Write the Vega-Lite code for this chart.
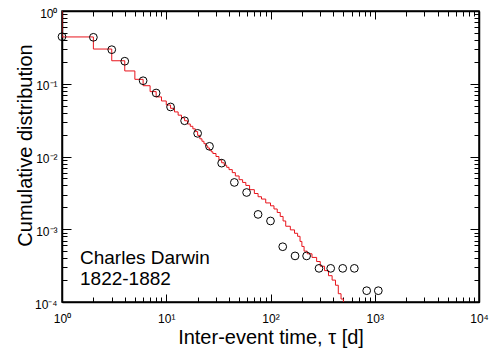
{
  "$schema": "https://vega.github.io/schema/vega-lite/v6.json",
  "width": 417,
  "height": 291,
  "autosize": "none",
  "padding": {"left": 62, "top": 11, "right": 12, "bottom": 55},
  "background": "white",
  "config": {
    "view": {"stroke": "black", "strokeWidth": 1.5},
    "axis": {
      "grid": false,
      "labelFlush": false,
      "labelOverlap": false,
      "labelFont": "Liberation Sans",
      "labelFontSize": 12,
      "labelColor": "black",
      "titleFont": "Liberation Sans",
      "titleFontWeight": "normal",
      "titleColor": "black",
      "tickColor": "black",
      "tickWidth": 1,
      "domainColor": "black",
      "domainWidth": 1.5
    },
    "text": {"font": "Liberation Sans"}
  },
  "datasets": {
    "ccdf": [
      {"t": 1, "p": 1.0},
      {"t": 1, "p": 0.44},
      {"t": 2, "p": 0.30},
      {"t": 3, "p": 0.207},
      {"t": 4, "p": 0.150},
      {"t": 5, "p": 0.115},
      {"t": 6, "p": 0.094},
      {"t": 7, "p": 0.078},
      {"t": 8, "p": 0.066},
      {"t": 9, "p": 0.058},
      {"t": 10, "p": 0.051},
      {"t": 11, "p": 0.046},
      {"t": 12, "p": 0.041},
      {"t": 13, "p": 0.037},
      {"t": 14, "p": 0.034},
      {"t": 15, "p": 0.031},
      {"t": 16, "p": 0.028},
      {"t": 17, "p": 0.026},
      {"t": 18, "p": 0.024},
      {"t": 19, "p": 0.022},
      {"t": 20, "p": 0.0195},
      {"t": 21, "p": 0.0175},
      {"t": 22, "p": 0.0162},
      {"t": 23, "p": 0.0150},
      {"t": 24, "p": 0.0140},
      {"t": 25, "p": 0.0131},
      {"t": 26, "p": 0.0123},
      {"t": 27, "p": 0.0116},
      {"t": 28, "p": 0.0110},
      {"t": 30, "p": 0.0100},
      {"t": 32, "p": 0.0090},
      {"t": 34, "p": 0.0082},
      {"t": 36, "p": 0.0076},
      {"t": 38, "p": 0.0071},
      {"t": 40, "p": 0.0066},
      {"t": 43, "p": 0.0060},
      {"t": 46, "p": 0.0054},
      {"t": 50, "p": 0.0048},
      {"t": 54, "p": 0.0044},
      {"t": 58, "p": 0.0040},
      {"t": 63, "p": 0.0035},
      {"t": 70, "p": 0.0031},
      {"t": 76, "p": 0.0028},
      {"t": 82, "p": 0.0026},
      {"t": 90, "p": 0.0023},
      {"t": 100, "p": 0.0021},
      {"t": 108, "p": 0.0019},
      {"t": 116, "p": 0.0017},
      {"t": 124, "p": 0.0015},
      {"t": 132, "p": 0.0013},
      {"t": 140, "p": 0.0011},
      {"t": 155, "p": 0.00098},
      {"t": 170, "p": 0.00088},
      {"t": 182, "p": 0.00080},
      {"t": 192, "p": 0.00068},
      {"t": 200, "p": 0.00058},
      {"t": 210, "p": 0.00050},
      {"t": 225, "p": 0.00046},
      {"t": 250, "p": 0.00041},
      {"t": 277, "p": 0.00036},
      {"t": 300, "p": 0.00031},
      {"t": 330, "p": 0.00027},
      {"t": 360, "p": 0.00023},
      {"t": 390, "p": 0.00020},
      {"t": 420, "p": 0.00017},
      {"t": 447, "p": 0.00013},
      {"t": 475, "p": 0.00011},
      {"t": 500, "p": 0.0001}
    ],
    "binned": [
      {"t": 1, "p": 0.443},
      {"t": 2, "p": 0.435},
      {"t": 3, "p": 0.294},
      {"t": 4, "p": 0.204},
      {"t": 6, "p": 0.110},
      {"t": 8, "p": 0.0746},
      {"t": 11, "p": 0.048},
      {"t": 15, "p": 0.031},
      {"t": 20, "p": 0.0208},
      {"t": 26, "p": 0.0138},
      {"t": 34, "p": 0.0081},
      {"t": 45, "p": 0.0044},
      {"t": 59, "p": 0.0032},
      {"t": 76, "p": 0.0016},
      {"t": 100, "p": 0.0013},
      {"t": 131, "p": 0.000575},
      {"t": 172, "p": 0.00043},
      {"t": 222, "p": 0.00043},
      {"t": 292, "p": 0.00029},
      {"t": 378, "p": 0.00029},
      {"t": 493, "p": 0.00029},
      {"t": 637, "p": 0.00029},
      {"t": 837, "p": 0.000143},
      {"t": 1082, "p": 0.000143}
    ]
  },
  "resolve": {"scale": {"x": "shared", "y": "shared"}, "axis": {"x": "independent", "y": "independent"}},
  "layer": [
    {
      "data": {"name": "ccdf"},
      "mark": {"type": "line", "interpolate": "step-after", "color": "#e8141c", "strokeWidth": 1, "clip": true},
      "encoding": {
        "x": {
          "field": "t", "type": "quantitative",
          "scale": {"type": "log", "domain": [1, 10000], "nice": false},
          "axis": {
            "orient": "bottom",
            "values": [1, 10, 100, 1000, 10000],
            "tickSize": -8,
            "labelPadding": 28,
            "labelBaseline": "alphabetic",
            "labelExpr": "datum.value < 5 ? '10⁰' : datum.value < 50 ? '10¹' : datum.value < 500 ? '10²' : datum.value < 5000 ? '10³' : '10⁴'",
            "title": "Inter-event time, τ [d]",
            "titleFontSize": 20,
            "titleBaseline": "alphabetic",
            "titleY": 41
          }
        },
        "y": {
          "field": "p", "type": "quantitative",
          "scale": {"type": "log", "domain": [0.0001, 1], "nice": false},
          "axis": {
            "orient": "left",
            "values": [0.0001, 0.001, 0.01, 0.1, 1],
            "tickSize": -9,
            "labelPadding": 14,
            "labelAlign": "right",
            "labelBaseline": "alphabetic",
            "labelOffset": 6,
            "labelExpr": "datum.value > 0.5 ? '10⁰' : datum.value > 0.05 ? '10⁻¹' : datum.value > 0.005 ? '10⁻²' : datum.value > 0.0005 ? '10⁻³' : '10⁻⁴'",
            "title": "Cumulative distribution",
            "titleFontSize": 20,
            "titleAngle": -90,
            "titleAlign": "center",
            "titleBaseline": "alphabetic",
            "titleX": -31,
            "titleY": 134
          }
        }
      }
    },
    {
      "data": {"name": "binned"},
      "mark": {"type": "point", "shape": "circle", "filled": false, "stroke": "black", "strokeWidth": 1, "size": 60, "opacity": 1},
      "encoding": {
        "x": {
          "field": "t", "type": "quantitative",
          "scale": {"type": "log", "domain": [1, 10000], "nice": false},
          "axis": {
            "orient": "bottom",
            "values": [2, 3, 4, 5, 6, 7, 8, 9, 20, 30, 40, 50, 60, 70, 80, 90, 200, 300, 400, 500, 600, 700, 800, 900, 2000, 3000, 4000, 5000, 6000, 7000, 8000, 9000],
            "tickSize": -5,
            "labels": false,
            "domain": false,
            "title": null
          }
        },
        "y": {
          "field": "p", "type": "quantitative",
          "scale": {"type": "log", "domain": [0.0001, 1], "nice": false},
          "axis": {
            "orient": "left",
            "values": [0.0002, 0.0003, 0.0004, 0.0005, 0.0006, 0.0007, 0.0008, 0.0009, 0.002, 0.003, 0.004, 0.005, 0.006, 0.007, 0.008, 0.009, 0.02, 0.03, 0.04, 0.05, 0.06, 0.07, 0.08, 0.09, 0.2, 0.3, 0.4, 0.5, 0.6, 0.7, 0.8, 0.9],
            "tickSize": -5,
            "labels": false,
            "domain": false,
            "title": null
          }
        }
      }
    },
    {
      "data": {"values": [{"label": "Charles Darwin\n1822-1882"}]},
      "mark": {"type": "text", "align": "left", "baseline": "alphabetic", "fontSize": 19, "lineBreak": "\n", "lineHeight": 21, "color": "black"},
      "encoding": {
        "text": {"field": "label"},
        "x": {
          "datum": 1.488, "type": "quantitative",
          "axis": {
            "orient": "top",
            "values": [1, 10, 100, 1000, 10000],
            "tickSize": -8,
            "labels": false,
            "title": null
          }
        },
        "y": {
          "datum": 0.000333, "type": "quantitative",
          "axis": {
            "orient": "right",
            "values": [0.0001, 0.001, 0.01, 0.1, 1],
            "tickSize": -9,
            "labels": false,
            "title": null
          }
        }
      }
    },
    {
      "data": {"name": "binned"},
      "mark": {"type": "point", "shape": "circle", "filled": false, "size": 60, "opacity": 0},
      "encoding": {
        "x": {
          "field": "t", "type": "quantitative",
          "axis": {
            "orient": "top",
            "values": [2, 3, 4, 5, 6, 7, 8, 9, 20, 30, 40, 50, 60, 70, 80, 90, 200, 300, 400, 500, 600, 700, 800, 900, 2000, 3000, 4000, 5000, 6000, 7000, 8000, 9000],
            "tickSize": -5,
            "labels": false,
            "domain": false,
            "title": null
          }
        },
        "y": {
          "field": "p", "type": "quantitative",
          "axis": {
            "orient": "right",
            "values": [0.0002, 0.0003, 0.0004, 0.0005, 0.0006, 0.0007, 0.0008, 0.0009, 0.002, 0.003, 0.004, 0.005, 0.006, 0.007, 0.008, 0.009, 0.02, 0.03, 0.04, 0.05, 0.06, 0.07, 0.08, 0.09, 0.2, 0.3, 0.4, 0.5, 0.6, 0.7, 0.8, 0.9],
            "tickSize": -5,
            "labels": false,
            "domain": false,
            "title": null
          }
        }
      }
    }
  ]
}
